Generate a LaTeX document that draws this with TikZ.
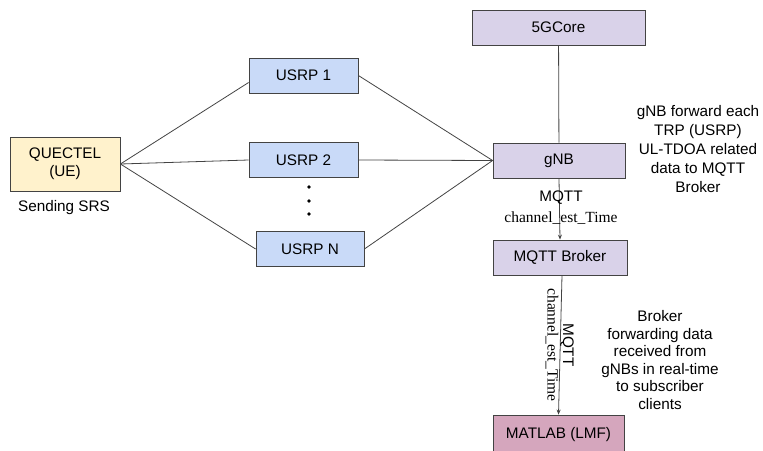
\documentclass[tikz,border=0pt]{standalone}
\usepackage{fontspec}
\setmainfont{Liberation Sans}
\newfontfamily\timesfont{Liberation Serif}
\usetikzlibrary{arrows.meta}
\definecolor{ueyellow}{HTML}{FFF2CC}
\definecolor{usrpblue}{HTML}{C9DAF8}
\definecolor{corelilac}{HTML}{D9D2E9}
\definecolor{lmfpink}{HTML}{D5A6BD}
\definecolor{edgegray}{HTML}{434343}

\begin{document}
\begin{tikzpicture}
		[x=1pt,y=-1pt,
		every node/.style={font=\fontsize{15.3}{18}\selectfont},
		box/.style={draw=edgegray,line width=0.8pt,minimum height=35pt,inner sep=0pt},
		link/.style={draw=edgegray,line width=0.8pt},
		msg/.style={link,-{Stealth[length=5pt,width=4pt]}},
		serif/.style={font=\timesfont\fontsize{15.5}{18}\selectfont}]
		\useasboundingbox (0,0) rectangle (763,450);
		
		\node[box,fill=ueyellow,minimum width=110pt,minimum height=54pt,align=center] (ue) at (65,164) {QUECTEL\\(UE)};
		\node (srs) at (64,208) {Sending SRS};
		
		\node[box,fill=usrpblue,minimum width=109pt] (usrp1) at (303.5,75.5) {USRP 1};
		\node[box,fill=usrpblue,minimum width=109pt] (usrp2) at (303.5,160) {USRP 2};
		\node[box,fill=usrpblue,minimum width=108pt] (usrpN) at (310,249) {USRP N};
		\foreach \y in {187,201,214}
			\fill (309,\y) circle (1.8pt);
		
		\node[box,fill=corelilac,minimum width=173pt] (core) at (558.5,27.5) {5GCore};
		\node[box,fill=corelilac,minimum width=132pt] (gnb) at (559,160.5) {gNB};
		\node[box,fill=corelilac,minimum width=134pt] (broker) at (560,257.5) {MQTT Broker};
		\node[box,fill=lmfpink,minimum width=131pt,minimum height=40pt] (lmf) at (558.5,435) {MATLAB (LMF)};
		
		\node[align=center,font=\fontsize{15.3}{19}\selectfont] (gnbnote) at (698,149) {gNB forward each\\TRP (USRP)\\UL-TDOA related\\data to MQTT\\Broker};
		\node[align=center,font=\fontsize{15.3}{17.5}\selectfont] (brokernote) at (660,360) {Broker\\forwarding data\\received from\\gNBs in real-time\\to subscriber\\clients};
		
		% UE to the radios, radios to gNB
		\draw[link] (ue.east) -- ([yshift=-7pt]usrp1.west);
		\draw[link] (ue.east) -- (usrp2.west);
		\draw[link] (ue.east) -- (usrpN.west);
		\draw[link] (usrp1.east) -- (gnb.west);
		\draw[link] (usrp2.east) -- (gnb.west);
		\draw[link] (usrpN.east) -- (gnb.west);
		\draw[link] (core) -- (gnb);
		
		% MQTT flow
		\draw[msg] (gnb.south) -- (broker.north);
		\node (mqtt1) at (561,198) {MQTT};
		\node[serif] (est1) at (561,218) {channel\_est\_Time};
		\draw[msg] ([xshift=2pt]broker.south) -- (lmf.north);
		\node[rotate=-90] (mqtt2) at (567,345) {MQTT};
		\node[serif,rotate=-90] (est2) at (552,345) {channel\_est\_Time};
		
		\end{tikzpicture}
\end{document}
